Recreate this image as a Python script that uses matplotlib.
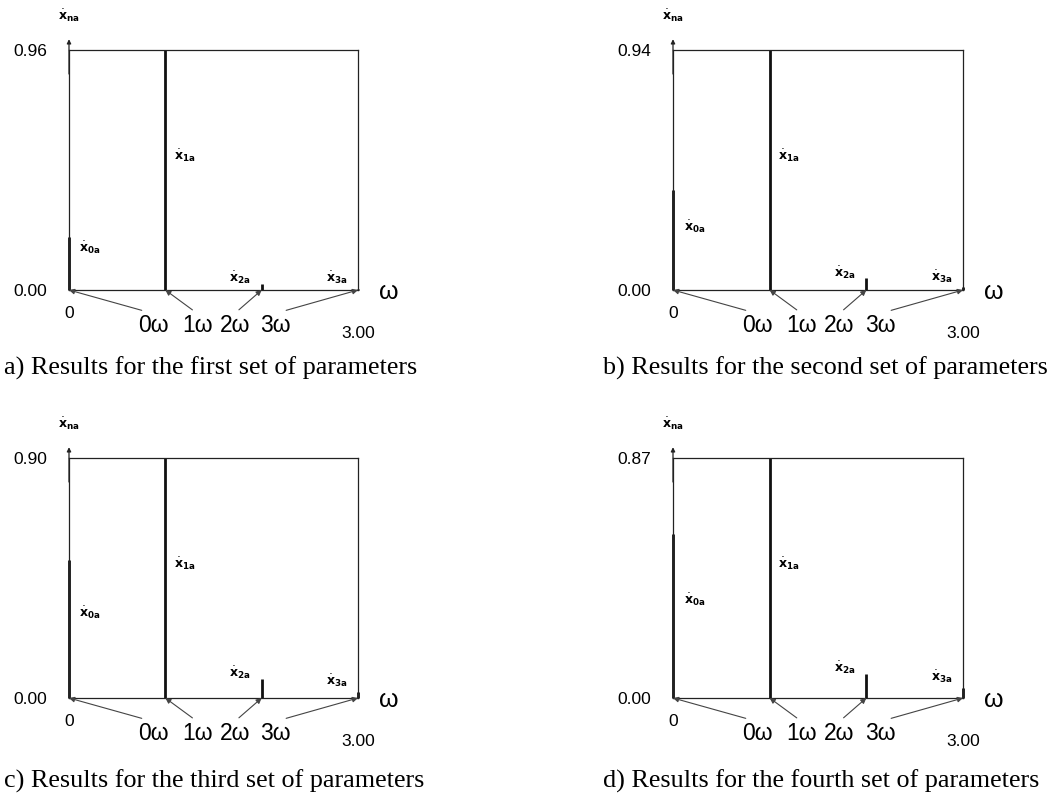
import matplotlib
matplotlib.use("Agg")
import matplotlib.pyplot as plt

# amplitude spectra of the velocity harmonics, one entry per parameter set
CAPTIONS = [
    "a) Results for the first set of parameters",
    "b) Results for the second set of parameters",
    "c) Results for the third set of parameters",
    "d) Results for the fourth set of parameters",
]
HARMONICS = [0, 1, 2, 3]
HARMONIC_LABELS = ["0\u03c9", "1\u03c9", "2\u03c9", "3\u03c9"]
X0A = [0.213, 0.392, 0.516, 0.596]
X1A = [0.96, 0.94, 0.90, 0.87]
X2A = [0.024, 0.046, 0.072, 0.088]
X3A = [0.004, 0.010, 0.022, 0.037]
X_MAX = 3.00

# layout (pixels on a 1052x801 canvas)
W, H = 1052, 801
AX_LEFT = [69, 673]
AX_BOTTOM = [290, 698]
AX_W = [289, 290]
AX_H = 240
X0A_LABEL_FRAC = [0.175, 0.262, 0.354, 0.408]
LABEL_OFFSETS = [(84, -35), (32, -35), (-27, -35), (-83, -35)]

plt.rcParams["font.family"] = ["Liberation Sans", "DejaVu Sans"]
plt.rcParams["mathtext.fontset"] = "dejavusans"

fig = plt.figure(figsize=(W / 100, H / 100), dpi=100)


def bold_label(sub):
    return r"$\dot{\mathbf{x}}_{\mathbf{" + sub + "}}$"


for i in range(4):
    col, row = i % 2, i // 2
    left = AX_LEFT[col] / W
    bottom = (H - AX_BOTTOM[row]) / H
    ax = fig.add_axes([left, bottom, AX_W[col] / W, AX_H / H])
    ymax = X1A[i]
    ax.set_xlim(0, X_MAX)
    ax.set_ylim(0, ymax)

    for side in ["top", "right", "bottom", "left"]:
        ax.spines[side].set_linewidth(0.9)
        ax.spines[side].set_color("#222222")

    vals = [X0A[i], X1A[i], X2A[i], X3A[i]]
    ax.vlines(HARMONICS, 0, vals, colors="#111111", linewidth=2.0, clip_on=False)

    # y axis arrow
    ax.annotate("", xy=(0, 1.045), xycoords=("data", "axes fraction"),
                xytext=(0, 0.9), textcoords=("data", "axes fraction"),
                arrowprops=dict(arrowstyle="-|>", color="#222222", lw=0.9,
                                mutation_scale=6, shrinkA=0, shrinkB=0))
    ax.annotate(r"$\dot{\mathbf{x}}_{\mathbf{na}}$", xy=(0, 1.142),
                xycoords=("data", "axes fraction"), ha="center", va="center",
                fontsize=9)

    ax.set_xticks([])
    ax.set_yticks([0, ymax])
    ax.set_yticklabels([f"{0:.2f}", f"{ymax:.2f}"], fontsize=12.5)
    ax.tick_params(axis="y", length=0, pad=15.5)

    ax.annotate("0", xy=(0, 0), xytext=(0, -23), textcoords="offset pixels",
                ha="center", va="center", fontsize=12.5)
    ax.annotate(f"{X_MAX:.2f}", xy=(X_MAX, 0), xytext=(0, -44),
                textcoords="offset pixels", ha="center", va="center", fontsize=12.5)
    ax.annotate("\u03c9", xy=(X_MAX, 0), xytext=(31, -2),
                textcoords="offset pixels", ha="center", va="center", fontsize=18)

    # harmonic labels with arrows
    for h, lab, off in zip(HARMONICS, HARMONIC_LABELS, LABEL_OFFSETS):
        ax.annotate(lab, xy=(h, 0), xytext=off, textcoords="offset pixels",
                    ha="center", va="center", fontsize=16.5,
                    arrowprops=dict(arrowstyle="-|>", color="#444444", lw=0.8,
                                    mutation_scale=8, shrinkA=1, shrinkB=0,
                                    relpos=(0.5, 1.0)))

    # amplitude labels
    ax.annotate(bold_label("0a"), xy=(0.22, X0A_LABEL_FRAC[i] * ymax),
                ha="center", va="center", fontsize=9)
    ax.annotate(bold_label("1a"), xy=(1.2, 0.56 * ymax),
                ha="center", va="center", fontsize=9)
    ax.annotate(bold_label("2a"), xy=(2, X2A[i]), xytext=(-22, 6),
                textcoords="offset pixels", ha="center", va="center", fontsize=9)
    ax.annotate(bold_label("3a"), xy=(3, X3A[i]), xytext=(-21, 11),
                textcoords="offset pixels", ha="center", va="center", fontsize=9)

    cap_x = [4, 603][col] / W
    cap_y = (H - [368, 781][row]) / H
    fig.text(cap_x, cap_y, CAPTIONS[i], ha="left", va="center", fontsize=18.8,
             family=["Liberation Serif", "DejaVu Serif"])

fig.savefig("out.png", dpi=100)
